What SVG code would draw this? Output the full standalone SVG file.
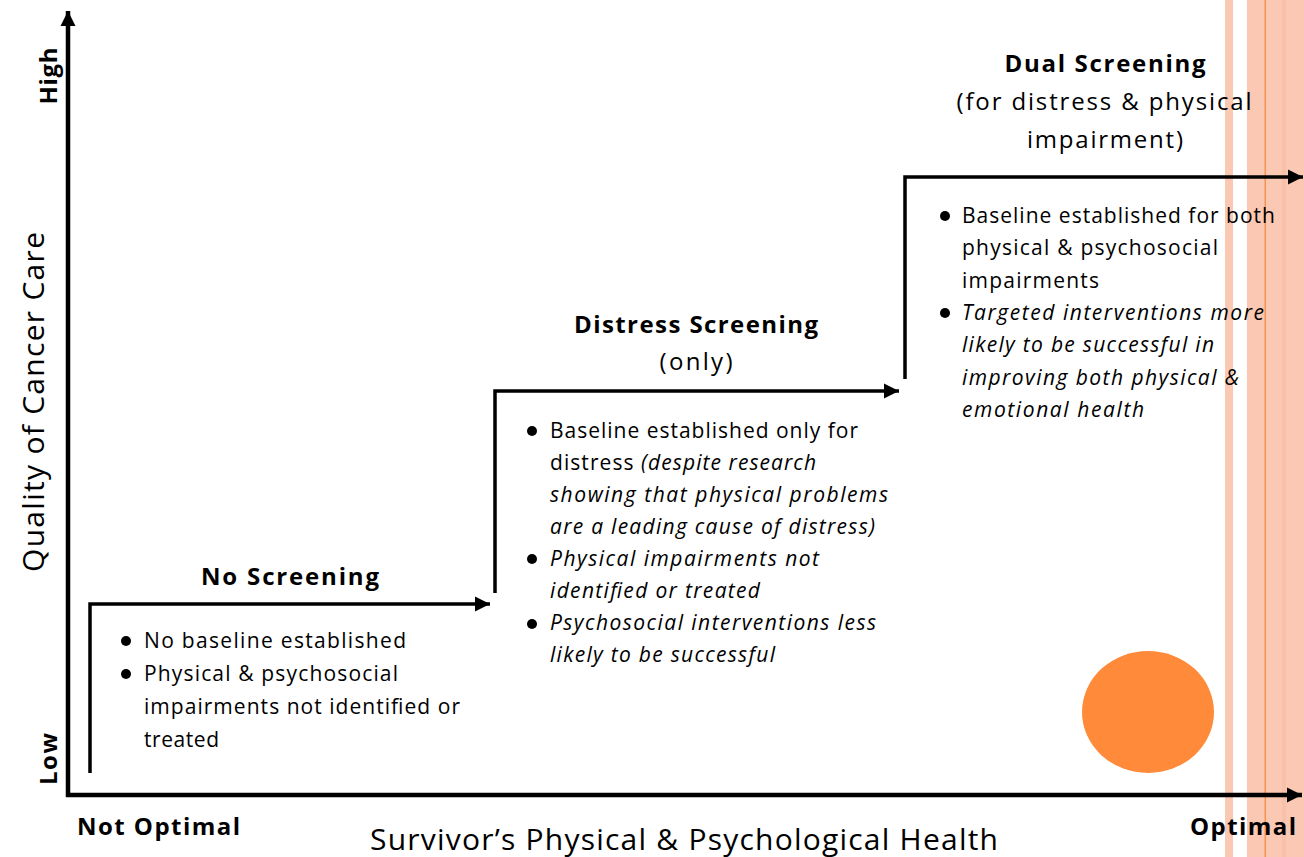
<svg xmlns="http://www.w3.org/2000/svg" width="1304" height="857" viewBox="0 0 1304 857">
<defs>
<style>
text{font-family:"Open Sans","Liberation Sans",sans-serif;fill:#000}
.b{font-size:21px}
.i{font-style:italic}
.h{font-size:24px;font-weight:bold;text-anchor:middle}
.s{font-size:24px;text-anchor:middle}
.ax{font-size:30px}
.axb{font-size:24px;font-weight:bold;text-anchor:middle}
.xo{font-size:24px;font-weight:bold}
.step{fill:none;stroke:#000;stroke-width:3.5}
.axis{fill:none;stroke:#000;stroke-width:4.5}
.dot{fill:#000}
</style>
<marker id="ah" viewBox="0 0 10 10" refX="10" refY="5" markerWidth="4.4" markerHeight="4.4" markerUnits="strokeWidth" orient="auto"><path d="M0,0L10,5L0,10z" fill="#000"/></marker>
<marker id="ahx" viewBox="0 0 10 10" refX="10" refY="5" markerWidth="3.4" markerHeight="3.4" markerUnits="strokeWidth" orient="auto"><path d="M0,0L10,5L0,10z" fill="#000"/></marker>
</defs>
<rect width="1304" height="857" fill="#fff"/>
<g id="decor">
<rect x="1225" y="0" width="8" height="857" fill="#FBC8B3"/>
<rect x="1247" y="0" width="57" height="857" fill="#FBC8B3"/>
<rect x="1282" y="0" width="4" height="857" fill="#F9C1A9"/>
<rect x="1264.5" y="0" width="1.5" height="857" fill="#F8924F"/>
<ellipse cx="1148" cy="712" rx="66" ry="61" fill="#FF8A3A"/>
</g>
<g id="connectors">
<path class="axis" d="M68,797V11" marker-end="url(#ahx)"/>
<path class="axis" d="M66,795H1302" marker-end="url(#ahx)"/>
<path class="step" d="M90,773V604H490" marker-end="url(#ah)"/>
<path class="step" d="M495,593V391H899" marker-end="url(#ah)"/>
<path class="step" d="M905,379V177H1303" marker-end="url(#ah)"/>
</g>
<g id="axis-labels">
<text class="axb" transform="translate(57,76) rotate(-90)" textLength="57">High</text>
<text class="axb" transform="translate(57,759) rotate(-90)" textLength="52">Low</text>
<text class="ax" transform="translate(44,402) rotate(-90)" text-anchor="middle" textLength="340">Quality of Cancer Care</text>
<text class="xo" x="77" y="835" textLength="163">Not Optimal</text>
<text class="xo" x="1190" y="835" textLength="106">Optimal</text>
<text class="ax" x="370" y="850" textLength="628">Survivor’s Physical &amp; Psychological Health</text>
</g>
<g id="no-screening">
<text class="h" x="290" y="585" textLength="178">No Screening</text>
<circle class="dot" cx="126" cy="641" r="5"/>
<circle class="dot" cx="126" cy="674" r="5"/>
<text class="b" x="144" y="648" textLength="262">No baseline established</text>
<text class="b" x="144" y="681" textLength="254">Physical &amp; psychosocial</text>
<text class="b" x="144" y="714" textLength="316">impairments not identified or</text>
<text class="b" x="144" y="747" textLength="75">treated</text>
</g>
<g id="distress-screening">
<text class="h" x="696" y="333" textLength="244">Distress Screening</text>
<text class="s" x="696" y="370" textLength="73">(only)</text>
<circle class="dot" cx="532" cy="431" r="5"/>
<circle class="dot" cx="532" cy="559" r="5"/>
<circle class="dot" cx="532" cy="624" r="5"/>
<text class="b" x="550" y="438" textLength="308">Baseline established only for</text>
<text class="b" x="550" y="470" textLength="266">distress <tspan class="i">(despite research</tspan></text>
<text class="b i" x="550" y="502" textLength="338">showing that physical problems</text>
<text class="b i" x="550" y="534" textLength="325">are a leading cause of distress)</text>
<text class="b i" x="550" y="566" textLength="269">Physical impairments not</text>
<text class="b i" x="550" y="598" textLength="210">identified or treated</text>
<text class="b i" x="550" y="630" textLength="326">Psychosocial interventions less</text>
<text class="b i" x="550" y="662" textLength="225">likely to be successful</text>
</g>
<g id="dual-screening">
<text class="h" x="1105" y="72" textLength="201">Dual Screening</text>
<text class="s" x="1104" y="110" textLength="295">(for distress &amp; physical</text>
<text class="s" x="1105" y="148" textLength="156">impairment)</text>
<circle class="dot" cx="945" cy="216" r="5"/>
<circle class="dot" cx="945" cy="313" r="5"/>
<text class="b" x="962" y="223" textLength="313">Baseline established for both</text>
<text class="b" x="962" y="255" textLength="256">physical &amp; psychosocial</text>
<text class="b" x="962" y="288" textLength="137">impairments</text>
<text class="b i" x="962" y="320" textLength="302">Targeted interventions more</text>
<text class="b i" x="962" y="352" textLength="252">likely to be successful in</text>
<text class="b i" x="962" y="385" textLength="277">improving both physical &amp;</text>
<text class="b i" x="962" y="417" textLength="182">emotional health</text>
</g>
</svg>
